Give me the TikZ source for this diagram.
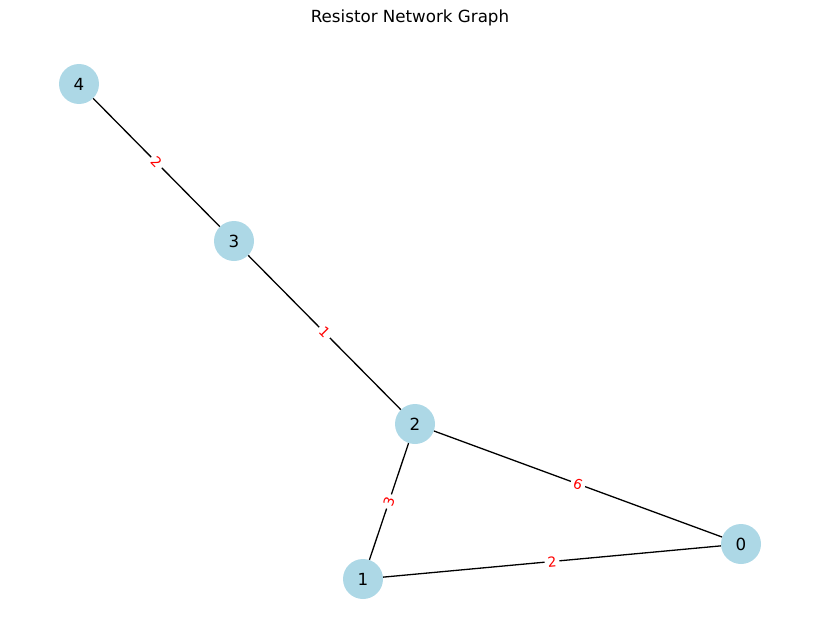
\documentclass[tikz,border=0pt]{standalone}
\usepackage{fontspec}
\setmainfont{DejaVu Sans}
\definecolor{lightblue}{HTML}{ADD8E6}
\begin{document}
\begin{tikzpicture}[x=1pt,y=-1pt,
  vert/.style={circle,fill=lightblue,minimum size=40pt,inner sep=0pt,font=\fontsize{16.7}{18}\selectfont},
  edge/.style={line width=1.3pt,black},
  wlabel/.style={fill=white,text=red,inner sep=3pt,font=\fontsize{13.9}{15}\selectfont,sloped}]
\useasboundingbox (0,0) rectangle (819,642);
\node (title) at (410,18) {\fontsize{16.7}{18}\selectfont Resistor Network Graph};
\node[vert] (n4) at (79,84) {4};
\node[vert] (n3) at (234,241) {3};
\node[vert] (n2) at (415,424) {2};
\node[vert] (n1) at (363,579) {1};
\node[vert] (n0) at (741,544) {0};
\draw[edge] (n4) -- node[wlabel] {2} (n3);
\draw[edge] (n3) -- node[wlabel] {1} (n2);
\draw[edge] (n1) -- node[wlabel] {3} (n2);
\draw[edge] (n2) -- node[wlabel] {6} (n0);
\draw[edge] (n1) -- node[wlabel] {2} (n0);
\end{tikzpicture}
\end{document}
